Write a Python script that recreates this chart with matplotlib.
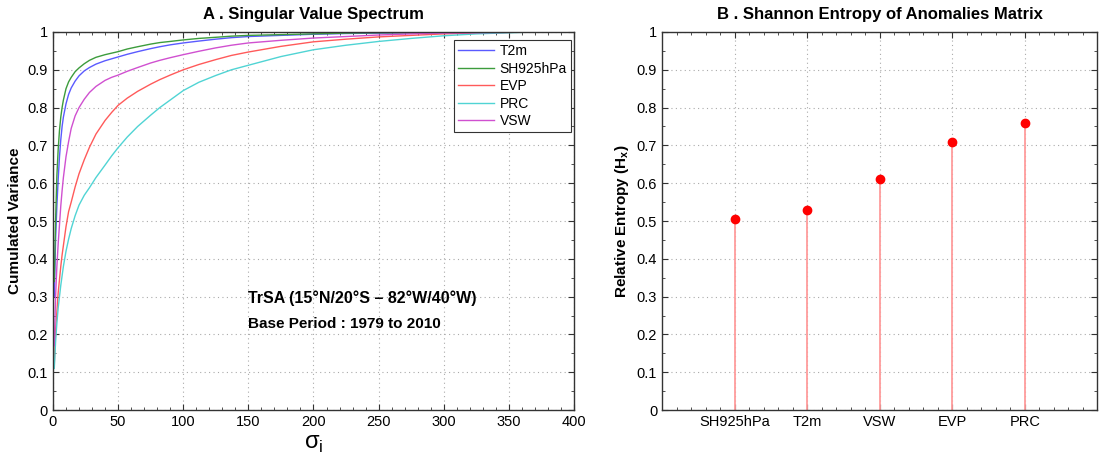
import matplotlib
matplotlib.use("Agg")
import matplotlib.pyplot as plt
from matplotlib.ticker import MultipleLocator

plt.rcParams['font.family'] = ['Liberation Sans', 'DejaVu Sans']

# cumulated variance (index of singular value -> fraction)
idx = [1, 2, 3, 4, 5, 6, 7, 8, 10, 12, 14, 17, 20, 24, 28, 33, 40, 45, 50, 57, 65, 75, 82, 90,
       100, 112, 125, 137, 150, 175, 200, 225, 250, 275, 300, 325, 350]
t2m = [0.30, 0.45, 0.54, 0.61, 0.67, 0.715, 0.75, 0.775, 0.81, 0.835, 0.852, 0.87, 0.884, 0.897,
       0.906, 0.915, 0.924, 0.929, 0.934, 0.941, 0.948, 0.956, 0.961, 0.966, 0.971, 0.976, 0.981,
       0.985, 0.988, 0.991, 0.994, 0.996, 0.997, 0.998, 0.999, 0.999, 1.0]
sh925 = [0.34, 0.50, 0.62, 0.69, 0.74, 0.775, 0.80, 0.82, 0.85, 0.868, 0.88, 0.895, 0.905, 0.916,
         0.925, 0.933, 0.94, 0.944, 0.948, 0.955, 0.961, 0.968, 0.972, 0.975, 0.979, 0.983, 0.986,
         0.989, 0.991, 0.993, 0.995, 0.997, 0.998, 0.998, 0.999, 0.999, 1.0]
evp = [0.12, 0.21, 0.26, 0.31, 0.345, 0.38, 0.41, 0.435, 0.485, 0.525, 0.55, 0.59, 0.625, 0.662,
       0.695, 0.73, 0.766, 0.787, 0.806, 0.825, 0.843, 0.862, 0.874, 0.886, 0.90, 0.914, 0.927,
       0.938, 0.947, 0.962, 0.974, 0.981, 0.987, 0.991, 0.995, 0.997, 0.999]
prc = [0.11, 0.18, 0.23, 0.27, 0.30, 0.33, 0.355, 0.38, 0.42, 0.452, 0.48, 0.514, 0.542, 0.568,
       0.588, 0.615, 0.648, 0.672, 0.694, 0.722, 0.75, 0.78, 0.80, 0.82, 0.845, 0.867, 0.885, 0.90,
       0.912, 0.935, 0.953, 0.965, 0.975, 0.983, 0.99, 0.995, 0.998]
vsw = [0.17, 0.30, 0.38, 0.44, 0.49, 0.54, 0.58, 0.615, 0.67, 0.71, 0.745, 0.778, 0.80, 0.822,
       0.84, 0.856, 0.872, 0.88, 0.886, 0.896, 0.906, 0.918, 0.925, 0.932, 0.94, 0.949, 0.958,
       0.965, 0.971, 0.978, 0.984, 0.988, 0.992, 0.995, 0.997, 0.998, 0.999]
# last index of each spectrum
n_modes = {"T2m": 380, "SH925hPa": 385, "EVP": 375, "PRC": 370, "VSW": 372}

# relative entropy, panel B
entropy_vars = ["SH925hPa", "T2m", "VSW", "EVP", "PRC"]
entropy_vals = [0.505, 0.53, 0.61, 0.71, 0.758]

fig = plt.figure(figsize=(10.99, 4.57), dpi=100)
ax1 = fig.add_axes([0.0482, 0.1028, 0.4741, 0.8272])
ax2 = fig.add_axes([0.6024, 0.1028, 0.3960, 0.8272])

series = [("T2m", t2m, '#5a5aff'), ("SH925hPa", sh925, '#3c9c3c'), ("EVP", evp, '#ff5a5a'),
          ("PRC", prc, '#50d4d4'), ("VSW", vsw, '#d050d0')]
for name, vals, col in series:
    ax1.plot(idx + [n_modes[name]], vals + [1.0], color=col, lw=1, label=name)

ax1.set_xlim(0, 400)
ax1.set_ylim(0, 1)
ax1.xaxis.set_major_locator(MultipleLocator(50))
ax1.xaxis.set_minor_locator(MultipleLocator(10))
ax1.set_title('A . Singular Value Spectrum', fontsize=12, fontweight='bold', pad=9)
ax1.set_ylabel('Cumulated Variance', fontsize=11, fontweight='bold', labelpad=4)
ax1.set_xlabel('σ$_\\mathregular{i}$', fontsize=17, labelpad=3)
leg = ax1.legend(loc='upper right', fontsize=10, fancybox=False, edgecolor='#333333',
                 framealpha=1, handlelength=2.6, handletextpad=0.4, borderpad=0.3,
                 labelspacing=0.25, borderaxespad=0, bbox_to_anchor=(0.994, 0.979))
leg.get_frame().set_linewidth(0.8)
ax1.text(150, 0.296, 'TrSA (15°N/20°S – 82°W/40°W)', fontsize=11.5, fontweight='bold', va='center')
ax1.text(150, 0.228, 'Base Period : 1979 to 2010', fontsize=11, fontweight='bold', va='center')

pos = list(range(1, len(entropy_vars) + 1))
ax2.vlines(pos, 0, entropy_vals, color='#ff9c9c', lw=1.3)
ax2.plot(pos, entropy_vals, 'o', color='#ff0000', ms=6)
ax2.set_xlim(0, 6)
ax2.set_ylim(0, 1)
ax2.set_xticks(pos)
ax2.set_xticklabels(entropy_vars)
ax2.xaxis.set_minor_locator(MultipleLocator(0.2))
ax2.set_title('B . Shannon Entropy of Anomalies Matrix', fontsize=12, fontweight='bold', pad=9)
ax2.set_ylabel('Relative Entropy (H$_\\mathregular{x}$)', fontsize=11, fontweight='bold', labelpad=4)

for ax in (ax1, ax2):
    ax.yaxis.set_minor_locator(MultipleLocator(0.05))
    ax.set_yticks([0, 0.1, 0.2, 0.3, 0.4, 0.5, 0.6, 0.7, 0.8, 0.9, 1])
    ax.set_yticklabels(['0', '0.1', '0.2', '0.3', '0.4', '0.5', '0.6', '0.7', '0.8', '0.9', '1'])
    ax.tick_params(which='both', direction='in', top=True, right=True, labelsize=10.5,
                   color='#333333')
    ax.tick_params(which='major', length=4)
    ax.tick_params(which='minor', length=2.5)
    ax.grid(True, which='major', linestyle=(0, (1, 3)), color='#aaaaaa', lw=0.8)
    for s in ax.spines.values():
        s.set_color('#333333')
        s.set_linewidth(1)

fig.savefig('out.png', dpi=100)
